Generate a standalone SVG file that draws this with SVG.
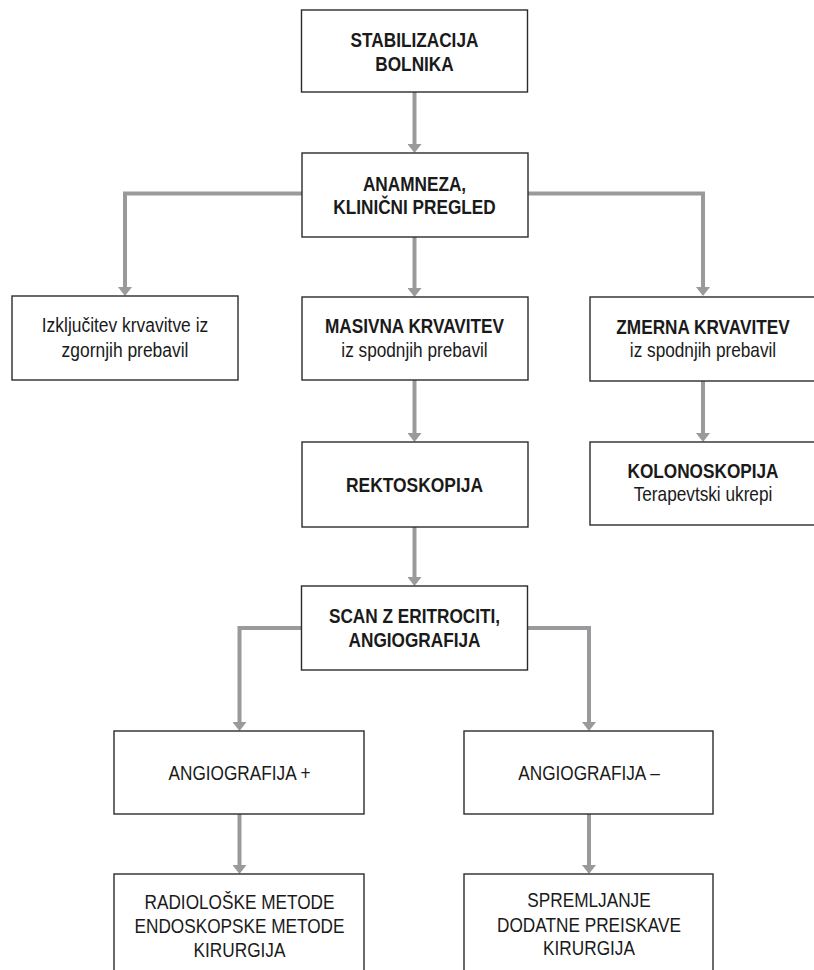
<svg xmlns="http://www.w3.org/2000/svg" width="814" height="970" viewBox="0 0 814 970">
<style>
.box{fill:#fff;stroke:#2b2b2b;stroke-width:1.4}
.t{font-family:"Liberation Sans",Arial,sans-serif;font-size:21px;fill:#1a1a1a;text-anchor:middle}
.b{font-weight:bold}
.c{fill:none;stroke:#9a9a9c;stroke-width:4}
</style>
<defs>
<marker id="ah" markerUnits="userSpaceOnUse" markerWidth="9" markerHeight="14" viewBox="0 0 9 14" refX="0" refY="7" orient="auto">
<path d="M0,0 L9,7 L0,14 z" fill="#9a9a9c"/>
</marker>
</defs>
<rect width="814" height="970" fill="#fff"/>
<g id="connectors">
<path class="c" d="M414.5,92 V144" marker-end="url(#ah)"/>
<path class="c" d="M414.5,237 V288" marker-end="url(#ah)"/>
<path class="c" d="M302,193.5 H125 V287" marker-end="url(#ah)"/>
<path class="c" d="M528,193.5 H703 V287" marker-end="url(#ah)"/>
<path class="c" d="M414.5,380 V433" marker-end="url(#ah)"/>
<path class="c" d="M703,381 V433" marker-end="url(#ah)"/>
<path class="c" d="M414.5,527 V577" marker-end="url(#ah)"/>
<path class="c" d="M302,628 H239.5 V722" marker-end="url(#ah)"/>
<path class="c" d="M527,628 H589 V722" marker-end="url(#ah)"/>
<path class="c" d="M239.5,814 V865" marker-end="url(#ah)"/>
<path class="c" d="M589,814 V865" marker-end="url(#ah)"/>
</g>
<g id="n1">
<rect class="box" x="301.5" y="10" width="226" height="82"/>
<g transform="translate(414.5 0) scale(0.82 1)">
<text class="t b" x="0" y="46.7">STABILIZACIJA</text>
<text class="t b" x="0" y="70.7">BOLNIKA</text>
</g>
</g>
<g id="n2">
<rect class="box" x="302" y="153" width="226" height="84"/>
<g transform="translate(414.5 0) scale(0.82 1)">
<text class="t b" x="0" y="190.7">ANAMNEZA,</text>
<text class="t b" x="0" y="214.3">KLINIČNI PREGLED</text>
</g>
</g>
<g id="n3">
<rect class="box" x="12" y="296" width="226" height="84"/>
<g transform="translate(125 0) scale(0.83 1)">
<text class="t" x="0" y="332.3">Izključitev krvavitve iz</text>
<text class="t" x="0" y="356.7">zgornjih prebavil</text>
</g>
</g>
<g id="n4">
<rect class="box" x="302" y="297" width="226" height="83"/>
<g transform="translate(414.5 0) scale(0.82 1)">
<text class="t b" x="0" y="333.5">MASIVNA KRVAVITEV</text>
<text class="t" x="0" y="356.7">iz spodnjih prebavil</text>
</g>
</g>
<g id="n5">
<rect class="box" x="590" y="297" width="226" height="84"/>
<g transform="translate(703 0) scale(0.82 1)">
<text class="t b" x="0" y="334">ZMERNA KRVAVITEV</text>
<text class="t" x="0" y="357">iz spodnjih prebavil</text>
</g>
</g>
<g id="n6">
<rect class="box" x="302" y="442" width="226" height="85"/>
<g transform="translate(414.5 0) scale(0.83 1)">
<text class="t b" x="0" y="491.7">REKTOSKOPIJA</text>
</g>
</g>
<g id="n7">
<rect class="box" x="590" y="442" width="226" height="83"/>
<g transform="translate(703 0) scale(0.82 1)">
<text class="t b" x="0" y="478.3">KOLONOSKOPIJA</text>
<text class="t" x="0" y="501">Terapevtski ukrepi</text>
</g>
</g>
<g id="n8">
<rect class="box" x="301.5" y="586" width="226" height="84"/>
<g transform="translate(414.5 0) scale(0.82 1)">
<text class="t b" x="0" y="623.3">SCAN Z ERITROCITI,</text>
<text class="t b" x="0" y="647.3">ANGIOGRAFIJA</text>
</g>
</g>
<g id="n9">
<rect class="box" x="114" y="731" width="250" height="83"/>
<g transform="translate(239.5 0) scale(0.82 1)">
<text class="t" x="0" y="780">ANGIOGRAFIJA +</text>
</g>
</g>
<g id="n10">
<rect class="box" x="464" y="731" width="249" height="83"/>
<g transform="translate(589 0) scale(0.82 1)">
<text class="t" x="0" y="780">ANGIOGRAFIJA –</text>
</g>
</g>
<g id="n11">
<rect class="box" x="114" y="874" width="250" height="130"/>
<g transform="translate(239.5 0) scale(0.82 1)">
<text class="t" x="0" y="909.5">RADIOLOŠKE METODE</text>
<text class="t" x="0" y="933.3">ENDOSKOPSKE METODE</text>
<text class="t" x="0" y="956.7">KIRURGIJA</text>
</g>
</g>
<g id="n12">
<rect class="box" x="464" y="874" width="249" height="130"/>
<g transform="translate(589 0) scale(0.82 1)">
<text class="t" x="0" y="907.5">SPREMLJANJE</text>
<text class="t" x="0" y="931.7">DODATNE PREISKAVE</text>
<text class="t" x="0" y="955.5">KIRURGIJA</text>
</g>
</g>
</svg>
